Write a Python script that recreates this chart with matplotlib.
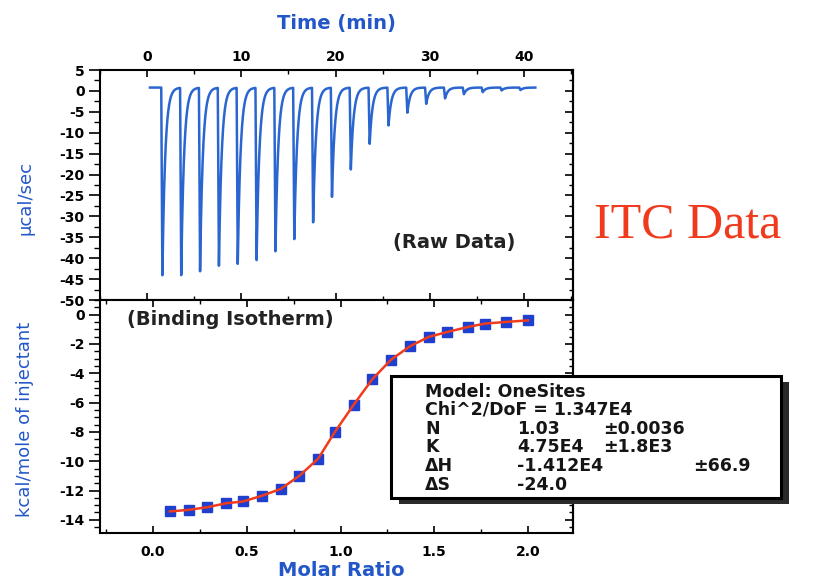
import numpy as np
import matplotlib
matplotlib.use("Agg")
import matplotlib.pyplot as plt
from matplotlib.patches import Rectangle
from matplotlib.ticker import MultipleLocator
from matplotlib.font_manager import FontProperties

plt.rcParams["axes.unicode_minus"] = False

# ---------------- data ----------------
inj_time = [1.5, 3.5, 5.5, 7.5, 9.5, 11.5, 13.5, 15.5, 17.5, 19.5,
            21.5, 23.5, 25.5, 27.5, 29.5, 31.5, 33.5, 35.5, 37.5, 39.5]
peak_min = [-44.4, -44.0, -43.2, -42.0, -41.6, -40.4, -38.4, -35.6, -31.6, -25.3,
            -18.8, -12.7, -8.3, -5.2, -3.1, -1.8, -0.8, -0.3, 0.1, 0.2]
baseline = 0.8
trace_start, trace_end = 0.3, 41.2

molar_ratio = [0.09, 0.19, 0.29, 0.39, 0.48, 0.58, 0.68, 0.78, 0.88, 0.97,
               1.07, 1.17, 1.27, 1.37, 1.47, 1.57, 1.68, 1.77, 1.88, 2.00]
heat = [-13.43, -13.32, -13.14, -12.87, -12.75, -12.36, -11.9, -11.0, -9.84, -8.0,
        -6.15, -4.4, -3.07, -2.16, -1.52, -1.18, -0.84, -0.61, -0.5, -0.39]

time_ticks = [0, 10, 20, 30, 40]
raw_yticks = [5, 0, -5, -10, -15, -20, -25, -30, -35, -40, -45, -50]
mr_ticks = [0.0, 0.5, 1.0, 1.5, 2.0]
mr_labels = ["0.0", "0.5", "1.0", "1.5", "2.0"]
iso_yticks = [0, -2, -4, -6, -8, -10, -12, -14]

box_rows = [("N", "1.03", "\u00b10.0036"),
            ("K", "4.75E4", "\u00b11.8E3"),
            ("\u0394H", "-1.412E4", "\u00b166.9"),
            ("\u0394S", "-24.0", "")]

# ---------------- figure ----------------
W, H = 813, 581
fig = plt.figure(figsize=(W / 100, H / 100), dpi=100)
fig.patch.set_facecolor("white")

def fx(x):
    return x / W

def fy(y):
    return 1 - y / H

left, right = 100, 573
ax1 = fig.add_axes([fx(left), fy(300), (right - left) / W, (300 - 70) / H])
ax2 = fig.add_axes([fx(left), fy(533), (right - left) / W, (533 - 300) / H])

blue_lab = "#2357c8"
trace_col = "#2b66d0"
tick_fp = FontProperties(family="DejaVu Sans", weight="bold", size=10)

# raw trace built from injection times / peak minima
t = np.linspace(trace_start, trace_end, 12000)
y = np.full_like(t, baseline)
drop, tau = 0.12, 0.3
for ti, pm in zip(inj_time, peak_min):
    amp = pm - baseline
    seg1 = (t >= ti) & (t < ti + drop)
    y[seg1] += amp * (t[seg1] - ti) / drop
    seg2 = t >= ti + drop
    y[seg2] += amp * np.exp(-(t[seg2] - ti - drop) / tau)
ax1.plot(t, y, color=trace_col, lw=1.8, solid_joinstyle="round")

ax1.set_xlim(-5, 45.2)
ax1.set_ylim(-50, 5)
ax1.set_xticks(time_ticks)
ax1.xaxis.set_minor_locator(MultipleLocator(5))
ax1.set_yticks(raw_yticks)
ax1.yaxis.set_minor_locator(MultipleLocator(2.5))
ax1.tick_params(axis="x", which="both", direction="in", top=True, bottom=True,
                labeltop=True, labelbottom=False, pad=4)
ax1.tick_params(axis="x", which="major", length=5, width=1.2)
ax1.tick_params(axis="x", which="minor", length=3, width=1.0)
ax1.tick_params(axis="y", which="both", direction="out", left=True, right=False, pad=3)
ax1.tick_params(axis="y", which="major", length=8, width=1.2)
ax1.tick_params(axis="y", which="minor", length=4, width=1.0)
ax1.text(0.62, 0.25, "(Raw Data)", transform=ax1.transAxes, fontsize=14,
         fontweight="bold", color="#222222", va="center", ha="left", family="DejaVu Sans")

# isotherm
ax2.plot(molar_ratio, heat, ls="none", marker="s", ms=7.5, color="#1f3fcf", zorder=2)
ax2.plot(molar_ratio, heat, color="#f03c1c", lw=1.8, zorder=3)
ax2.set_xlim(-0.283, 2.24)
ax2.set_ylim(-14.9, 1.0)
ax2.set_xticks(mr_ticks)
ax2.set_xticklabels(mr_labels)
ax2.xaxis.set_minor_locator(MultipleLocator(0.25))
ax2.set_yticks(iso_yticks)
ax2.yaxis.set_minor_locator(MultipleLocator(0.5))
ax2.tick_params(axis="x", which="both", direction="in", top=True, bottom=True, pad=9)
ax2.tick_params(axis="x", which="major", length=5, width=1.2)
ax2.tick_params(axis="x", which="minor", length=3, width=1.0)
ax2.tick_params(axis="y", which="both", direction="out", left=True, right=False, pad=3)
ax2.tick_params(axis="y", which="major", length=8, width=1.2)
ax2.tick_params(axis="y", which="minor", length=4, width=1.0)
ax2.text(0.058, 0.915, "(Binding Isotherm)", transform=ax2.transAxes, fontsize=14,
         fontweight="bold", color="#222222", va="center", ha="left", family="DejaVu Sans")

for ax, step_major, step_minor in ((ax1, 5, 2.5), (ax2, 2, 0.5)):
    sec = ax.secondary_yaxis("right")
    sec.yaxis.set_major_locator(MultipleLocator(step_major))
    sec.yaxis.set_minor_locator(MultipleLocator(step_minor))
    sec.tick_params(axis="y", which="both", direction="in", labelright=False)
    sec.tick_params(axis="y", which="major", length=6, width=1.2)
    sec.tick_params(axis="y", which="minor", length=3, width=1.0)
    sec.spines["right"].set_linewidth(1.5)
    for sp in ax.spines.values():
        sp.set_linewidth(1.5)
    for lab in ax.get_xticklabels() + ax.get_yticklabels():
        lab.set_fontproperties(tick_fp)

# axis titles
fig.text(fx(336), fy(23), "Time (min)", ha="center", va="center", color=blue_lab,
         fontsize=14, fontweight="bold", family="DejaVu Sans")
fig.text(fx(341), fy(571), "Molar Ratio", ha="center", va="center", color=blue_lab,
         fontsize=14, fontweight="bold", family="DejaVu Sans")
fig.text(fx(25), fy(198), "\u03bccal/sec", ha="center", va="center", rotation=90,
         color=blue_lab, fontsize=13, family="DejaVu Sans")
fig.text(fx(25), fy(419), "kcal/mole of injectant", ha="center", va="center", rotation=90,
         color=blue_lab, fontsize=13, family="DejaVu Sans")

# ITC Data label
fig.text(fx(594), fy(237), "ITC Data", ha="left", va="baseline", color="#f03a1e",
         fontsize=36, family="Liberation Serif")

# fit-result box with shadow
bx0, by0, bx1, by1 = 391, 376, 781, 498
shadow = Rectangle((fx(bx0 + 8), fy(by1 + 6)), (bx1 - bx0) / W, (by1 - by0) / H,
                   transform=fig.transFigure, facecolor="#2a2a2a", edgecolor="none", zorder=5)
box = Rectangle((fx(bx0), fy(by1)), (bx1 - bx0) / W, (by1 - by0) / H,
                transform=fig.transFigure, facecolor="white", edgecolor="black",
                lw=2.2, zorder=6)
fig.patches.extend([shadow, box])

box_font = dict(family="DejaVu Sans", weight="bold", size=12.5, color="#151515", zorder=7,
                va="center", ha="left")
fig.text(fx(425), fy(392), "Model: OneSites", **box_font)
fig.text(fx(425), fy(410), "Chi^2/DoF = 1.347E4", **box_font)
row_y = [429, 447, 466, 485]
err_x = [603, 603, 693, 603]
for (name, val, err), ry, ex in zip(box_rows, row_y, err_x):
    fig.text(fx(425), fy(ry), name, **box_font)
    fig.text(fx(517), fy(ry), val, **box_font)
    if err:
        fig.text(fx(ex), fy(ry), err, **box_font)

fig.savefig("out.png", dpi=100)
